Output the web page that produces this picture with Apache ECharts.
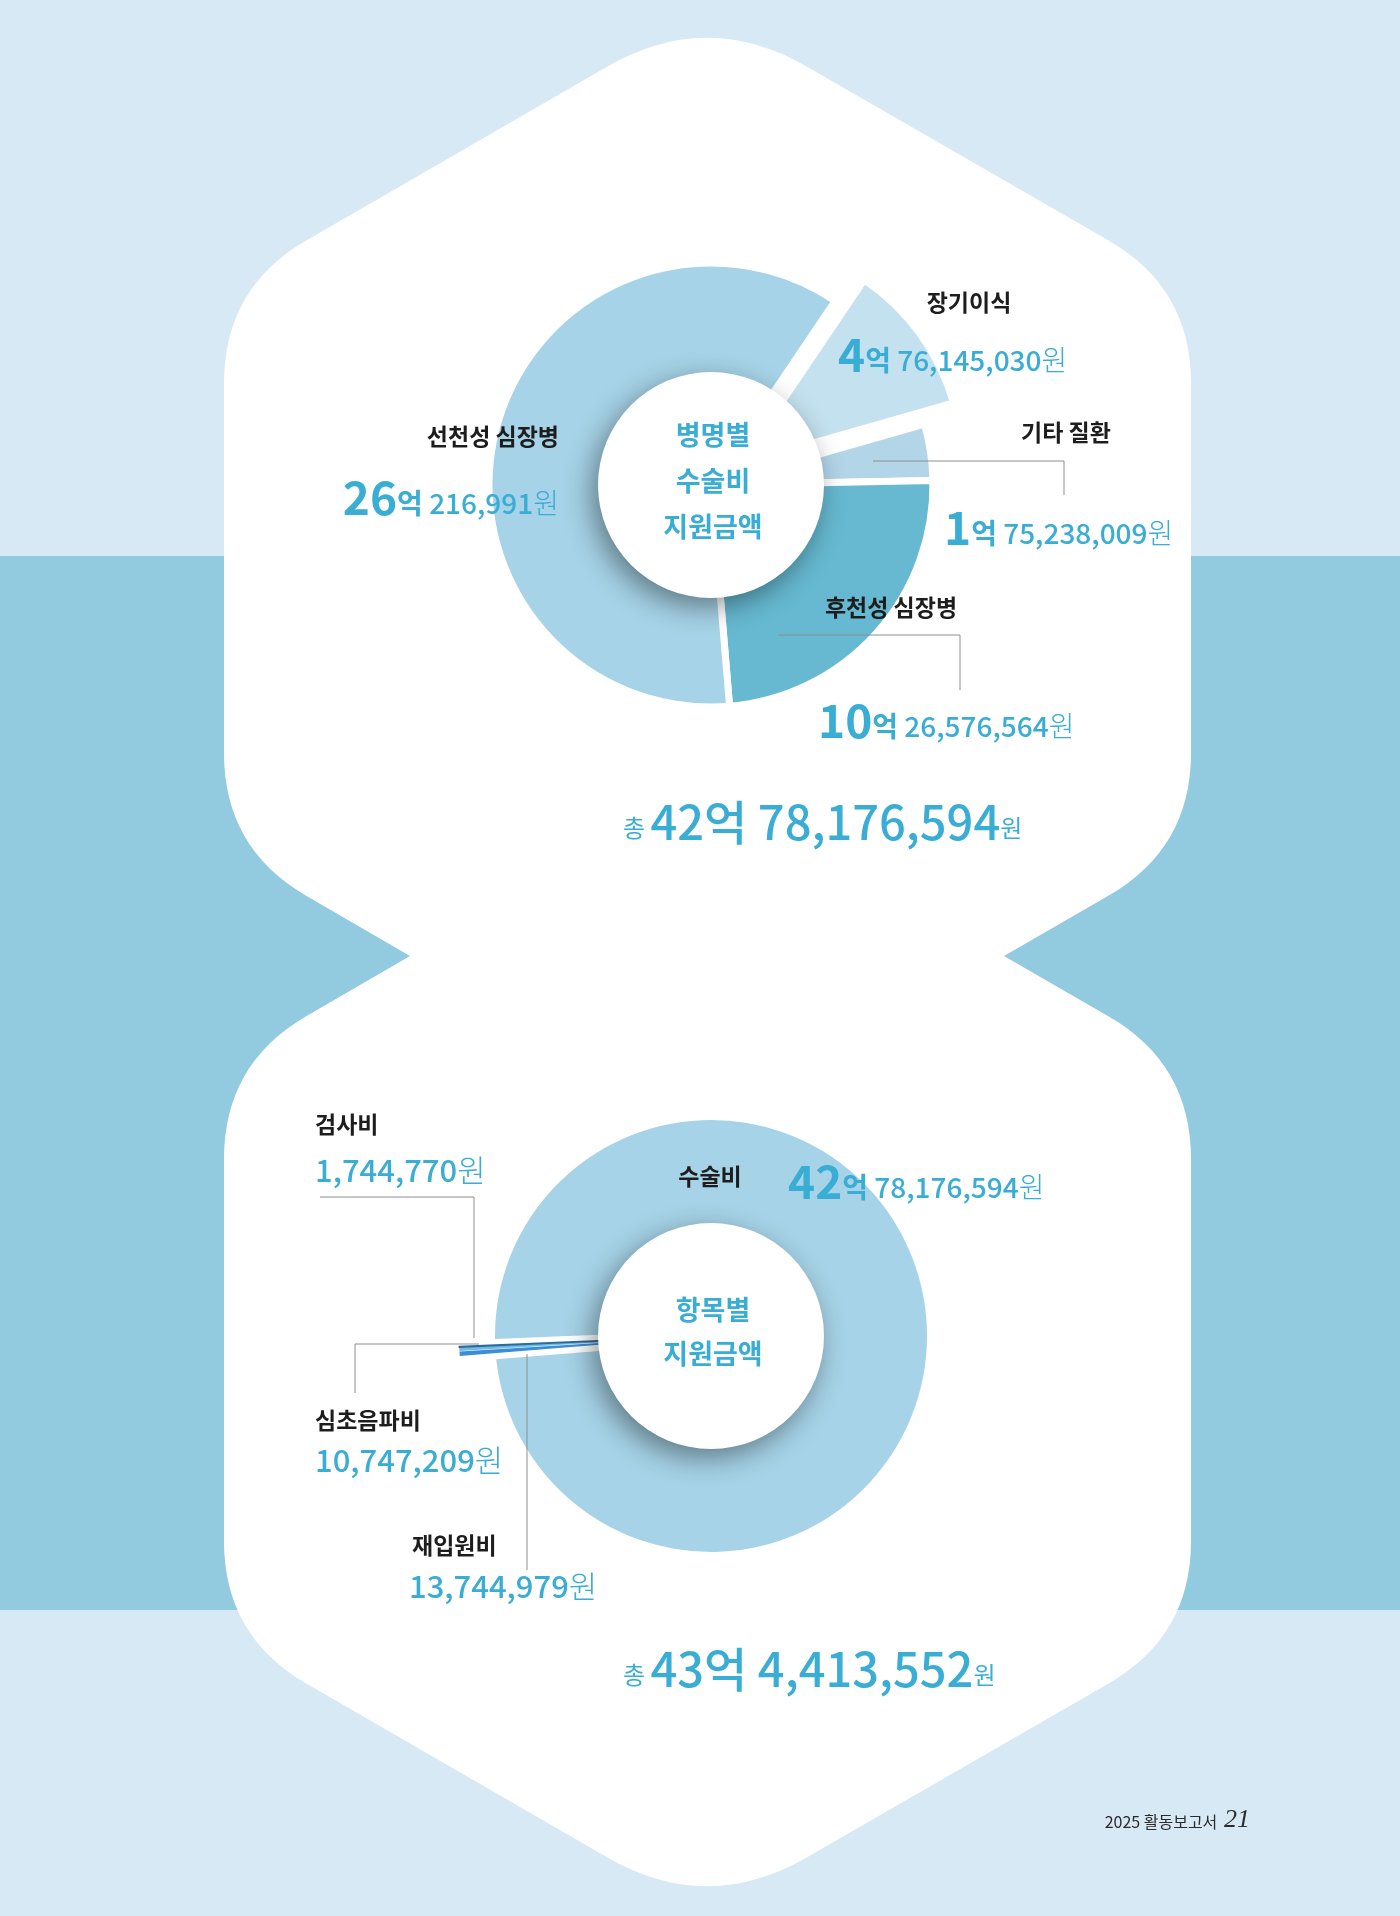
<!DOCTYPE html>
<html><head><meta charset="utf-8">
<script src="https://cdn.jsdelivr.net/npm/echarts@6/dist/echarts.min.js"></script>
<style>html,body{margin:0;padding:0;background:#d6e9f4}#chart{width:1400px;height:1916px}</style>
</head><body><div id="chart"></div>
<script>
// ---------- data ----------
const diseaseNames = ['장기이식', '기타 질환', '후천성 심장병', '선천성 심장병'];
const diseaseValues = [476145030, 175238009, 1026576564, 2600216991];
const itemNames = ['수술비', '재입원비', '심초음파비', '검사비'];
const itemValues = [4278176594, 13744979, 10747209, 1744770];
const topTitle = ['병명별', '수술비', '지원금액'];
const bottomTitle = ['항목별', '지원금액'];
const footerText = '2025 활동보고서';
const pageNumber = '21';

// ---------- styles ----------
const BLUE = '#3aadd4';
const DARK = '#1d1d1d';
const FONT = '"Noto Sans CJK KR", "Noto Sans", sans-serif';
const diseaseColors = {'장기이식': '#c4e1ef', '기타 질환': '#b2d5e8', '후천성 심장병': '#66b9d1', '선천성 심장병': '#a6d3e7'};
const itemColors = {'수술비': '#a6d3e7', '재입원비': '#3b8ed6', '심초음파비': '#6dbbee', '검사비': '#2c6b96'};

const topCenter = [711, 485], botCenter = [711, 1336];

const labelPos = {
  '장기이식': {name: [969, 302, 'center'], val: [838, 352, 'left']},
  '기타 질환': {name: [1066, 432, 'center'], val: [944, 525, 'left'], line: [[873, 461], [1064, 461], [1064, 495]]},
  '후천성 심장병': {name: [891, 607, 'center'], val: [818, 718, 'left'], line: [[778, 635], [960, 635], [960, 690]]},
  '선천성 심장병': {name: [559, 436, 'right'], val: [559, 495, 'right']},
  '수술비': {name: [710, 1176, 'center'], val: [788, 1179, 'left']},
  '검사비': {name: [315, 1124, 'left'], val: [315, 1170, 'left'], line: [[320, 1197], [474, 1197], [474, 1338]]},
  '심초음파비': {name: [315, 1420, 'left'], val: [315, 1460, 'left'], line: [[479, 1344], [355, 1344], [355, 1393]]},
  '재입원비': {name: [412, 1545, 'left'], val: [409, 1586, 'left'], line: [[527, 1354], [527, 1570]]}
};

function fmt(n) { return String(n).replace(/\B(?=(\d{3})+(?!\d))/g, ','); }
function eokParts(v) { const e = Math.floor(v / 1e8); return [e, v - e * 1e8]; }

const tok = (size, weight, extra) => Object.assign({fontSize: size, fontWeight: weight, fill: BLUE, fontFamily: FONT, verticalAlign: 'bottom'}, extra || {});
const valueRich = {
  big: tok(46, 'bold', {lineHeight: 52}),
  eok: tok(28, 'bold', {padding: [0, 0, 4, 0]}),
  num: tok(28, 500, {padding: [0, 0, 4, 0]}),
  won: tok(28, 300, {padding: [0, 0, 4, 0]})
};
const smallRich = {num: tok(31, 500), won: tok(31, 300)};
const totalRich = {
  t: tok(24, 400, {padding: [0, 0, 6, 0]}),
  big: tok(47, 500, {lineHeight: 56}),
  w: tok(24, 400, {padding: [0, 0, 6, 0]})
};

function eokText(v) {
  const [e, r] = eokParts(v);
  return `{big|${e}}{eok|억} {num|${fmt(r)}}{won|원}`;
}

// ---------- background 8-shape ----------
function roundPoly(pts, steps) {
  const out = [], n = pts.length;
  for (let i = 0; i < n; i++) {
    const V = pts[i], P = pts[(i - 1 + n) % n], N = pts[(i + 1) % n], r = V[2];
    if (!r) { out.push([V[0], V[1]]); continue; }
    const u = (a) => { const dx = a[0] - V[0], dy = a[1] - V[1], l = Math.hypot(dx, dy); return [dx / l, dy / l]; };
    const up = u(P), un = u(N);
    const A = [V[0] + up[0] * r, V[1] + up[1] * r], B = [V[0] + un[0] * r, V[1] + un[1] * r];
    for (let s = 0; s <= steps; s++) {
      const t = s / steps, a = (1 - t) * (1 - t), b = 2 * (1 - t) * t, c = t * t;
      out.push([a * A[0] + b * V[0] + c * B[0], a * A[1] + b * V[1] + c * B[1]]);
    }
  }
  return out;
}
const shapePts = roundPoly([
  [707, 9, 115], [1191, 288, 95], [1191, 848, 95], [1004, 956, 0], [1191, 1064, 95], [1191, 1636, 95],
  [707, 1915, 115], [224, 1636, 95], [224, 1064, 95], [410, 956, 0], [224, 848, 95], [224, 288, 95]
], 16);

// ---------- graphic elements ----------
const elements = [
  {type: 'rect', z: -30, shape: {x: 0, y: 0, width: 1400, height: 1916}, style: {fill: '#d6e9f4'}},
  {type: 'rect', z: -29, shape: {x: 0, y: 556, width: 1400, height: 1054}, style: {fill: '#92cae0'}},
  {type: 'polygon', z: -20, shape: {points: shapePts}, style: {fill: '#ffffff'}},
  {type: 'circle', z: 50, shape: {cx: topCenter[0], cy: topCenter[1], r: 113},
    style: {fill: '#fff', shadowBlur: 28, shadowColor: 'rgba(0,0,0,0.42)', shadowOffsetX: -6, shadowOffsetY: 9}},
  {type: 'circle', z: 50, shape: {cx: botCenter[0], cy: botCenter[1], r: 113},
    style: {fill: '#fff', shadowBlur: 28, shadowColor: 'rgba(0,0,0,0.42)', shadowOffsetX: -6, shadowOffsetY: 9}},
  {type: 'text', z: 60, x: 713, y: 481, style: {text: topTitle.join('\n'), align: 'center', verticalAlign: 'middle',
    fontSize: 27, fontWeight: 'bold', fontFamily: FONT, fill: BLUE, lineHeight: 46}},
  {type: 'text', z: 60, x: 713, y: 1332, style: {text: bottomTitle.join('\n'), align: 'center', verticalAlign: 'middle',
    fontSize: 27, fontWeight: 'bold', fontFamily: FONT, fill: BLUE, lineHeight: 44}}
];

function addLabel(name, value, useEok) {
  const p = labelPos[name];
  elements.push({type: 'text', z: 60, x: p.name[0], y: p.name[1], style: {text: name, align: p.name[2], verticalAlign: 'middle',
    fontSize: 23, fontWeight: 'bold', fontFamily: FONT, fill: DARK}});
  elements.push({type: 'text', z: 60, x: p.val[0], y: p.val[1], style: {
    text: useEok ? eokText(value) : `{num|${fmt(value)}}{won|원}`,
    rich: useEok ? valueRich : smallRich, align: p.val[2], verticalAlign: 'middle', fontSize: 28, fontFamily: FONT, fill: BLUE}});
  if (p.line) elements.push({type: 'polyline', z: 55, shape: {points: p.line}, style: {stroke: '#8e8e8e', lineWidth: 1, fill: null}});
}
diseaseNames.forEach((n, i) => addLabel(n, diseaseValues[i], true));
itemNames.forEach((n, i) => addLabel(n, itemValues[i], itemValues[i] >= 1e8));

function totalText(arr) {
  const [e, r] = eokParts(arr.reduce((a, b) => a + b, 0));
  return `{t|총} {big|${e}억 ${fmt(r)}}{w|원}`;
}
elements.push({type: 'text', z: 60, x: 623, y: 818, style: {text: totalText(diseaseValues), rich: totalRich, align: 'left', verticalAlign: 'middle', fontSize: 24, fontFamily: FONT, fill: BLUE}});
elements.push({type: 'text', z: 60, x: 623, y: 1665, style: {text: totalText(itemValues), rich: totalRich, align: 'left', verticalAlign: 'middle', fontSize: 24, fontFamily: FONT, fill: BLUE}});

elements.push({type: 'text', z: 60, x: 1250, y: 1820, style: {
  text: `{a|${footerText}}  {b|${pageNumber}}`, align: 'right', verticalAlign: 'middle',
  rich: {a: {fontSize: 16, fontFamily: FONT, fill: '#2b2b2b', verticalAlign: 'bottom', padding: [0, 0, 3, 0]},
         b: {fontSize: 26, fontStyle: 'italic', fontFamily: '"Liberation Serif", "DejaVu Serif", serif', fill: '#2b2b2b', verticalAlign: 'bottom'}}}});

// ---------- chart ----------
const chart = echarts.init(document.getElementById('chart'), null, {width: 1400, height: 1916});
chart.setOption({
  backgroundColor: '#d6e9f4',
  animation: false,
  graphic: {elements: elements},
  series: [
    {
      type: 'pie', center: topCenter, radius: [70, 222], startAngle: 56, clockwise: true,
      selectedMode: 'multiple', selectedOffset: 36, silent: true,
      label: {show: false}, labelLine: {show: false}, emphasis: {disabled: true},
      itemStyle: {borderColor: '#fff', borderWidth: 7},
      data: diseaseNames.map((n, i) => ({name: n, value: diseaseValues[i], selected: n === '장기이식', itemStyle: {color: diseaseColors[n]}}))
    },
    {
      type: 'pie', center: botCenter, radius: [70, 222], startAngle: 182.4, clockwise: true,
      selectedMode: 'multiple', selectedOffset: 30, silent: true,
      label: {show: false}, labelLine: {show: false}, emphasis: {disabled: true},
      data: itemNames.map((n, i) => ({
        name: n, value: itemValues[i], selected: i > 0,
        itemStyle: i === 0 ? {color: itemColors[n], borderColor: '#fff', borderWidth: 12}
                           : {color: itemColors[n], borderColor: n === '검사비' ? itemColors[n] : 'transparent', borderWidth: n === '검사비' ? 1.5 : 0}
      }))
    }
  ]
});
</script></body></html>
